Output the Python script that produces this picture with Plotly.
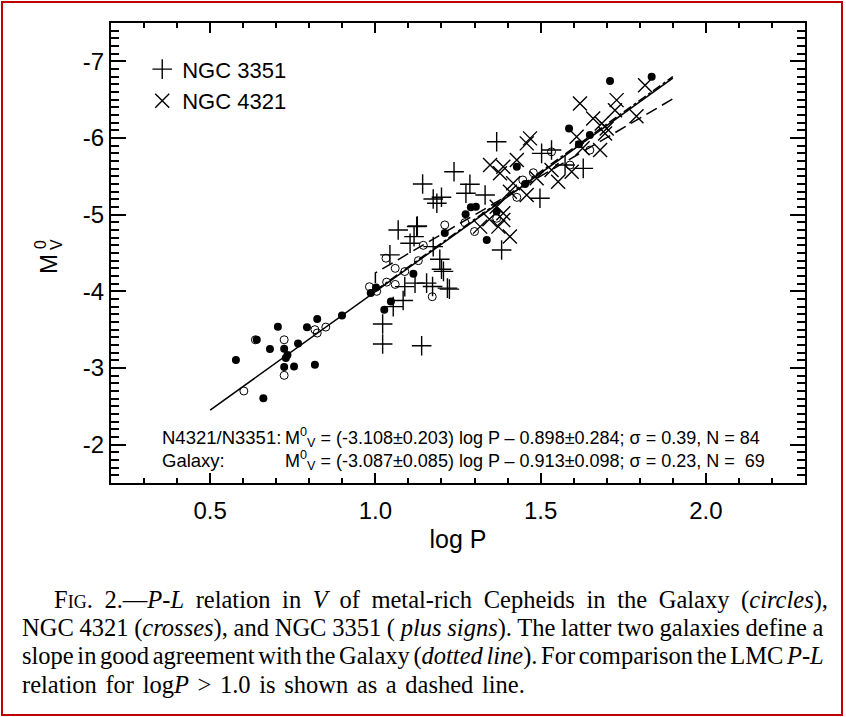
import plotly.graph_objects as go

# ---------------- data ----------------
gal_filled_logp = [0.578, 0.641, 0.661, 0.681, 0.705, 0.724, 0.729, 0.734, 0.724, 0.754,
                   0.766, 0.793, 0.824, 0.817, 0.899, 0.986, 1.002, 1.027, 1.047, 1.115,
                   1.210, 1.337, 1.710, 1.836, 1.586, 1.649, 1.616, 1.428, 1.453, 1.289,
                   1.304, 1.273, 1.367]
gal_filled_mv = [-3.105, -3.368, -2.604, -3.247, -3.538, -3.250, -3.130, -3.170, -3.013, -3.021,
                 -3.320, -3.530, -3.638, -3.043, -3.685, -3.977, -4.050, -3.759, -3.867, -4.230,
                 -4.760, -4.670, -6.745, -6.800, -6.125, -6.038, -5.920, -5.625, -5.400, -5.096,
                 -5.104, -5.005, -5.040]

gal_open_logp = [0.637, 0.602, 0.724, 0.724, 0.817, 0.824, 0.850, 0.982, 1.004, 1.032,
                 1.034, 1.060, 1.060, 1.172, 1.089, 1.145, 1.130, 1.300, 1.210, 1.271,
                 1.367, 1.428, 1.446, 1.478, 1.589, 1.649, 1.533]
gal_open_mv = [-3.368, -2.700, -3.368, -2.904, -3.500, -3.456, -3.534, -4.060, -4.000, -4.432,
               -4.120, -4.300, -4.090, -3.930, -4.258, -4.600, -4.400, -4.780, -4.866, -4.896,
               -4.953, -5.226, -5.452, -5.547, -5.647, -5.842, -5.820]

n3351_logp = [1.022, 1.022, 1.044, 1.054, 1.140, 1.224, 1.084, 1.089, 1.120, 1.155,
              1.200, 1.195, 1.175, 1.105, 1.382, 1.069, 1.127, 1.117, 1.173, 1.218,
              1.367, 1.238, 1.143, 1.286, 1.274, 1.332, 1.175, 1.200, 1.186, 1.533,
              1.503, 1.574, 1.629, 1.498, 1.125, 1.206]
n3351_mv = [-3.573, -3.313, -4.475, -3.800, -3.290, -4.029, -3.880, -4.062, -4.107, -4.107,
            -4.289, -4.419, -4.583, -4.628, -4.540, -4.800, -4.853, -4.714, -4.063, -4.042,
            -5.951, -5.560, -5.400, -5.396, -5.279, -5.257, -5.204, -5.227, -5.148, -5.843,
            -5.800, -5.647, -5.604, -5.214, -4.844, -4.260]

n4321_logp = [1.619, 1.816, 1.730, 1.725, 1.790, 1.659, 1.685, 1.700, 1.695, 1.468,
              1.458, 1.609, 1.627, 1.680, 1.347, 1.387, 1.377, 1.428, 1.488, 1.533,
              1.553, 1.594, 1.417, 1.407, 1.458, 1.367, 1.387, 1.387, 1.372, 1.407,
              1.345, 1.317]
n4321_mv = [-6.450, -6.689, -6.494, -6.363, -6.285, -6.255, -6.190, -6.125, -6.060, -5.995,
            -5.930, -6.016, -5.865, -5.843, -5.647, -5.625, -5.539, -5.712, -5.474, -5.582,
            -5.430, -5.560, -5.409, -5.300, -5.257, -5.104, -5.018, -4.931, -4.844, -4.714,
            -4.940, -4.844]

galaxy_fit_logp = [0.5, 1.9]
galaxy_fit_mv = [-2.45, -6.78]
ngc_fit_logp = [1.0, 1.9]
ngc_fit_mv = [-4.01, -6.80]
lmc_fit_logp = [1.0, 1.0, 1.9]
lmc_fit_mv = [-4.11, -4.24, -6.51]

x_tickvals = [0.5, 1.0, 1.5, 2.0]
x_ticktext = ["0.5", "1.0", "1.5", "2.0"]
y_tickvals = [-7, -6, -5, -4, -3, -2]
y_ticktext = ["-7", "-6", "-5", "-4", "-3", "-2"]

eq_labels = ["N4321/N3351:", "Galaxy:"]
eq_texts = ["M<sup>0</sup><sub>V</sub> = (-3.108±0.203) log P – 0.898±0.284; σ = 0.39, N = 84",
            "M<sup>0</sup><sub>V</sub> = (-3.087±0.085) log P – 0.913±0.098; σ = 0.23, N =  69"]
eq_y = [-2.10, -1.80]

caption_lines = [
    "F<span style='font-size:18px'>IG</span>. 2.—<i>P-L</i> relation in <i>V</i> of metal-rich Cepheids in the Galaxy (<i>circles</i>),",
    "NGC 4321 (<i>crosses</i>), and NGC 3351 ( <i>plus signs</i>). The latter two galaxies define a",
    "slope in good agreement with the Galaxy (<i>dotted line</i>). For comparison the LMC <i>P-L</i>",
    "relation for log<i>P</i> > 1.0 is shown as a dashed line.",
]
caption_wordspacing = [5.5, -0.4, -2.5, 2.5]

SANS = "Liberation Sans, Arial, Helvetica, sans-serif"
SERIF = "Liberation Serif, Times New Roman, serif"

fig = go.Figure()

fig.add_trace(go.Scatter(x=galaxy_fit_logp, y=galaxy_fit_mv, mode="lines",
                         line=dict(color="black", width=1.5), showlegend=False))
fig.add_trace(go.Scatter(x=ngc_fit_logp, y=ngc_fit_mv, mode="lines",
                         line=dict(color="black", width=1.5, dash="dashdot"), showlegend=False))
fig.add_trace(go.Scatter(x=lmc_fit_logp, y=lmc_fit_mv, mode="lines",
                         line=dict(color="black", width=1.5, dash="12px,6px"), showlegend=False))

fig.add_trace(go.Scatter(x=n3351_logp, y=n3351_mv, mode="markers", name="NGC 3351",
                         marker=dict(symbol="cross-thin", size=14, color="black",
                                     line=dict(color="black", width=1.4))))
fig.add_trace(go.Scatter(x=n4321_logp, y=n4321_mv, mode="markers", name="NGC 4321",
                         marker=dict(symbol="x-thin", size=14, color="black",
                                     line=dict(color="black", width=1.4))))
fig.add_trace(go.Scatter(x=gal_open_logp, y=gal_open_mv, mode="markers", showlegend=False,
                         marker=dict(symbol="circle-open", size=8, color="black",
                                     line=dict(color="black", width=1))))
fig.add_trace(go.Scatter(x=gal_filled_logp, y=gal_filled_mv, mode="markers", showlegend=False,
                         marker=dict(symbol="circle", size=8, color="black")))

annotations = []
EQ_SIZE = 18
x_lab = 0.348
x_m = 0.721
for lab, txt, yv in zip(eq_labels, eq_texts, eq_y):
    annotations.append(dict(x=x_lab, y=yv, xref="x", yref="y", text=lab,
                            showarrow=False, xanchor="left", yanchor="middle",
                            font=dict(family=SANS, size=EQ_SIZE + 0.5, color="black")))
    annotations.append(dict(x=x_m, y=yv, xref="x", yref="y", text=txt,
                            showarrow=False, xanchor="left", yanchor="middle",
                            font=dict(family=SANS, size=EQ_SIZE, color="black")))

# y-axis title: M with stacked V (sub) and 0 (sup), rotated
annotations.append(dict(x=(48 - 111) / 694, y=(483 - 264) / 460, xref="paper", yref="paper",
                        text="M", textangle=-90, showarrow=False,
                        xanchor="center", yanchor="middle",
                        font=dict(family=SANS, size=24, color="black")))
annotations.append(dict(x=(56 - 111) / 694, y=(483 - 245) / 460, xref="paper", yref="paper",
                        text="V", textangle=-90, showarrow=False,
                        xanchor="center", yanchor="middle",
                        font=dict(family=SANS, size=16, color="black")))
annotations.append(dict(x=(40 - 111) / 694, y=(483 - 245) / 460, xref="paper", yref="paper",
                        text="0", textangle=-90, showarrow=False,
                        xanchor="center", yanchor="middle",
                        font=dict(family=SANS, size=16, color="black")))

cap_y = [600, 628, 656, 684]
cap_x = [52, 20, 20, 20]
for ln, py, px, ws in zip(caption_lines, cap_y, cap_x, caption_wordspacing):
    txt = ln if ws == 0 else "<span style='word-spacing:%spx'>%s</span>" % (ws, ln)
    annotations.append(dict(x=(px - 111) / 694, y=(483 - py) / 460, xref="paper", yref="paper",
                            text=txt, showarrow=False, xanchor="left", yanchor="middle",
                            font=dict(family=SERIF, size=24.5, color="black")))

fig.update_layout(
    width=846, height=717,
    margin=dict(l=111, r=41, t=23, b=234),
    paper_bgcolor="white", plot_bgcolor="white",
    showlegend=True,
    legend=dict(x=0.045, y=0.945, xanchor="left", yanchor="top", bgcolor="rgba(0,0,0,0)",
                font=dict(family=SANS, size=22, color="black"), itemwidth=30,
                tracegroupgap=0),
    annotations=annotations,
    shapes=[dict(type="rect", xref="paper", yref="paper",
                 x0=(2 - 111) / 694, x1=(842 - 111) / 694,
                 y0=(483 - 715) / 460, y1=(483 - 2) / 460,
                 line=dict(color="#c00000", width=2), layer="below")],
    xaxis=dict(range=[0.2, 2.3], tickmode="array", tickvals=x_tickvals, ticktext=x_ticktext,
               ticks="inside", ticklen=10, tickwidth=1.5, tickcolor="black",
               showline=True, linewidth=2, linecolor="black", mirror="allticks",
               showgrid=False, zeroline=False, ticklabelstandoff=5,
               tickfont=dict(family=SANS, size=24, color="black"),
               title=dict(text="log P", font=dict(family=SANS, size=25, color="black"), standoff=8),
               minor=dict(tickmode="linear", tick0=0, dtick=0.1, ticks="inside", ticklen=5,
                          tickwidth=1.5, tickcolor="black", showgrid=False)),
    yaxis=dict(range=[-1.5, -7.5], tickmode="array", tickvals=y_tickvals, ticktext=y_ticktext,
               ticks="inside", ticklen=15, tickwidth=1.5, tickcolor="black",
               showline=True, linewidth=2, linecolor="black", mirror="allticks",
               showgrid=False, zeroline=False,
               tickfont=dict(family=SANS, size=24, color="black"),
               minor=dict(tickmode="linear", tick0=0, dtick=0.1, ticks="inside", ticklen=8,
                          tickwidth=1.5, tickcolor="black", showgrid=False)),
)

fig.write_html("out.html")
